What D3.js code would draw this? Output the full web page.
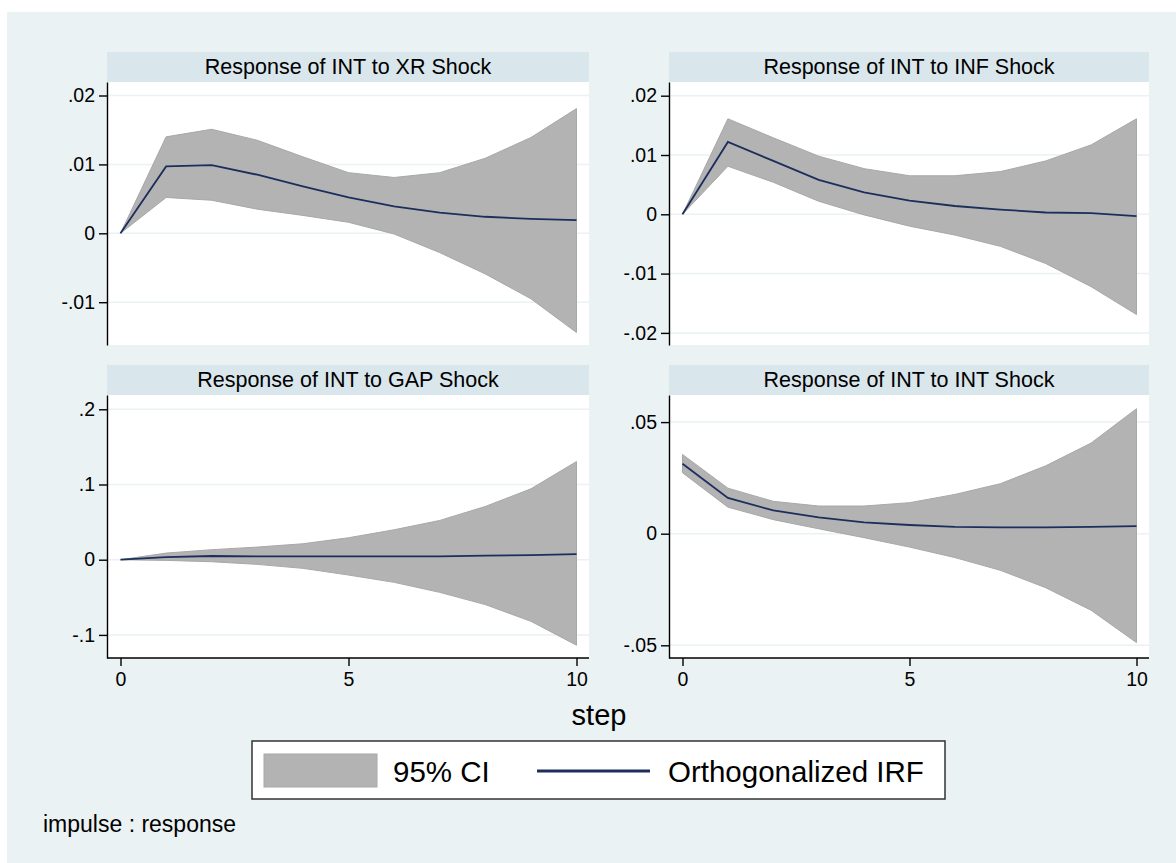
<!DOCTYPE html>
<html lang="en">
<head>
<meta charset="utf-8">
<script src="https://cdn.jsdelivr.net/npm/d3@7/dist/d3.min.js"></script>
<style>
body { margin: 0; background: #fff; }
text { font-family: Arial, "Liberation Sans", sans-serif; fill: #000; }
.axis path, .axis line { stroke: #000; stroke-width: 1.4; }
.grid { stroke: #eaf2f3; stroke-width: 1.5; }
.band { fill: #b3b3b3; stroke: #a8a8a8; stroke-width: 1; }
.irf { fill: none; stroke: #1c2e5c; stroke-width: 1.8; }
</style>
</head>
<body>
<div id="chart"></div>
<script>
var width = 1176, height = 863;

var steps = [0, 1, 2, 3, 4, 5, 6, 7, 8, 9, 10];

// INT to XR
var xrIrf = [0, 0.0097, 0.0099, 0.0085, 0.0068, 0.0052, 0.0039, 0.0030, 0.0024, 0.0021, 0.0019];
var xrLo  = [0, 0.0052, 0.0048, 0.0035, 0.0026, 0.0016, -0.0001, -0.0028, -0.0059, -0.0095, -0.0144];
var xrHi  = [0, 0.0140, 0.0151, 0.0135, 0.0111, 0.0088, 0.0081, 0.0088, 0.0109, 0.0139, 0.0181];

// INT to INF
var infIrf = [0, 0.0122, 0.0090, 0.0058, 0.0037, 0.0023, 0.0014, 0.0008, 0.0003, 0.0002, -0.0003];
var infLo  = [0, 0.0081, 0.0054, 0.0022, -0.0001, -0.0020, -0.0035, -0.0054, -0.0083, -0.0122, -0.0169];
var infHi  = [0, 0.0161, 0.0129, 0.0098, 0.0077, 0.0065, 0.0065, 0.0072, 0.0090, 0.0117, 0.0161];

// INT to GAP
var gapIrf = [0, 0.0035, 0.0049, 0.0044, 0.0044, 0.0044, 0.0044, 0.0044, 0.0053, 0.0062, 0.0075];
var gapLo  = [0, -0.0009, -0.0027, -0.0062, -0.0115, -0.0204, -0.0301, -0.0434, -0.0597, -0.0819, -0.1137];
var gapHi  = [0, 0.0088, 0.0133, 0.0168, 0.0212, 0.0292, 0.0398, 0.0522, 0.0708, 0.0942, 0.1305];

// INT to INT
var intIrf = [0.0313, 0.0160, 0.0104, 0.0073, 0.0051, 0.0039, 0.0031, 0.0028, 0.0028, 0.0031, 0.0034];
var intLo  = [0.0273, 0.0119, 0.0063, 0.0022, -0.0018, -0.0060, -0.0107, -0.0164, -0.0242, -0.0343, -0.0488];
var intHi  = [0.0355, 0.0204, 0.0145, 0.0124, 0.0124, 0.0139, 0.0176, 0.0224, 0.0304, 0.0406, 0.0560];

var titles = ["Response of INT to XR Shock", "Response of INT to INF Shock",
              "Response of INT to GAP Shock", "Response of INT to INT Shock"];
var yTicks = [[-0.01, 0, 0.01, 0.02], [-0.02, -0.01, 0, 0.01, 0.02],
              [-0.1, 0, 0.1, 0.2], [-0.05, 0, 0.05]];
var xTicks = [0, 5, 10];
var legendLabels = ["95% CI", "Orthogonalized IRF"];

var panels = [
    {title: titles[0], irf: xrIrf, lo: xrLo, hi: xrHi, ticks: yTicks[0], dom: [-0.01621, 0.02196], col: 0, row: 0},
    {title: titles[1], irf: infIrf, lo: infLo, hi: infHi, ticks: yTicks[1], dom: [-0.02204, 0.02231], col: 1, row: 0},
    {title: titles[2], irf: gapIrf, lo: gapLo, hi: gapHi, ticks: yTicks[2], dom: [-0.1307, 0.2190], col: 0, row: 1},
    {title: titles[3], irf: intIrf, lo: intLo, hi: intHi, ticks: yTicks[3], dom: [-0.05569, 0.06214], col: 1, row: 1}
];

var colX = [[107, 589], [669, 1149]],
    rowY = [52, 365],      // top of title strip
    stripH = 30,
    plotH = 263;

var svg = d3.select("#chart").append("svg")
    .attr("width", width)
    .attr("height", height);

svg.append("rect")
    .attr("x", 7).attr("y", 12)
    .attr("width", width - 7).attr("height", height - 12)
    .attr("fill", "#eaf2f3");

function fmt(d) {
    return d === 0 ? "0" : String(d).replace("0.", ".");
}

panels.forEach(function (p) {
    var x0 = colX[p.col][0], x1 = colX[p.col][1],
        top = rowY[p.row],
        pTop = top + stripH,
        pBot = pTop + plotH;

    var g = svg.append("g");

    g.append("rect")
        .attr("x", x0).attr("y", top)
        .attr("width", x1 - x0).attr("height", stripH)
        .attr("fill", "#d9e6eb");

    g.append("text")
        .attr("x", (x0 + x1) / 2).attr("y", top + 22)
        .attr("text-anchor", "middle")
        .style("font-size", "21.5px")
        .text(p.title);

    g.append("rect")
        .attr("x", x0).attr("y", pTop)
        .attr("width", x1 - x0).attr("height", plotH)
        .attr("fill", "#fff");

    var x = d3.scaleLinear().domain([0, 10]).range([x0 + 13.5, x1 - 12.5]);
    var y = d3.scaleLinear().domain(p.dom).range([pBot, pTop]);

    g.selectAll(".grid")
        .data(p.ticks)
        .enter().append("line")
        .attr("class", "grid")
        .attr("x1", x0).attr("x2", x1)
        .attr("y1", function (d) { return y(d); })
        .attr("y2", function (d) { return y(d); });

    var area = d3.area()
        .x(function (d, i) { return x(steps[i]); })
        .y0(function (d, i) { return y(p.lo[i]); })
        .y1(function (d, i) { return y(p.hi[i]); });

    var line = d3.line()
        .x(function (d, i) { return x(steps[i]); })
        .y(function (d) { return y(d); });

    g.append("path").datum(p.irf).attr("class", "band").attr("d", area);
    g.append("path").datum(p.irf).attr("class", "irf").attr("d", line);

    var yAxis = g.append("g")
        .attr("class", "axis")
        .attr("transform", "translate(" + x0 + ",0)")
        .call(d3.axisLeft(y).tickValues(p.ticks).tickFormat(fmt)
            .tickSize(8).tickSizeOuter(0).tickPadding(4));
    yAxis.selectAll("text").style("font-size", "19.5px");

    if (p.row === 1) {
        var xAxis = g.append("g")
            .attr("class", "axis")
            .attr("transform", "translate(0," + pBot + ")")
            .call(d3.axisBottom(x).tickValues(xTicks).tickFormat(d3.format("d"))
                .tickSize(8).tickSizeOuter(0).tickPadding(6));
        xAxis.select(".domain").remove();
        xAxis.append("line")
            .attr("x1", x0).attr("x2", x1)
            .attr("y1", 0).attr("y2", 0)
            .attr("stroke", "#000").attr("stroke-width", 1.4);
        xAxis.selectAll("text").style("font-size", "19.5px");
    }
});

// x-axis title
svg.append("text")
    .attr("x", 599).attr("y", 725)
    .attr("text-anchor", "middle")
    .style("font-size", "29px")
    .text("step");

// legend
var lg = svg.append("g");
lg.append("rect")
    .attr("x", 252).attr("y", 741)
    .attr("width", 693).attr("height", 58)
    .attr("fill", "#fff")
    .attr("stroke", "#333").attr("stroke-width", 1.5);
lg.append("rect")
    .attr("x", 264).attr("y", 754)
    .attr("width", 113).attr("height", 33)
    .attr("class", "band").attr("stroke-width", 2);
lg.append("text")
    .attr("x", 393).attr("y", 782)
    .style("font-size", "29.5px")
    .text(legendLabels[0]);
lg.append("line")
    .attr("x1", 537).attr("x2", 650)
    .attr("y1", 771).attr("y2", 771)
    .attr("stroke", "#1c2e5c").attr("stroke-width", 3);
lg.append("text")
    .attr("x", 668).attr("y", 782)
    .style("font-size", "29.5px")
    .text(legendLabels[1]);

// note
svg.append("text")
    .attr("x", 43).attr("y", 832)
    .style("font-size", "23px")
    .text("impulse : response");
</script>
</body>
</html>
